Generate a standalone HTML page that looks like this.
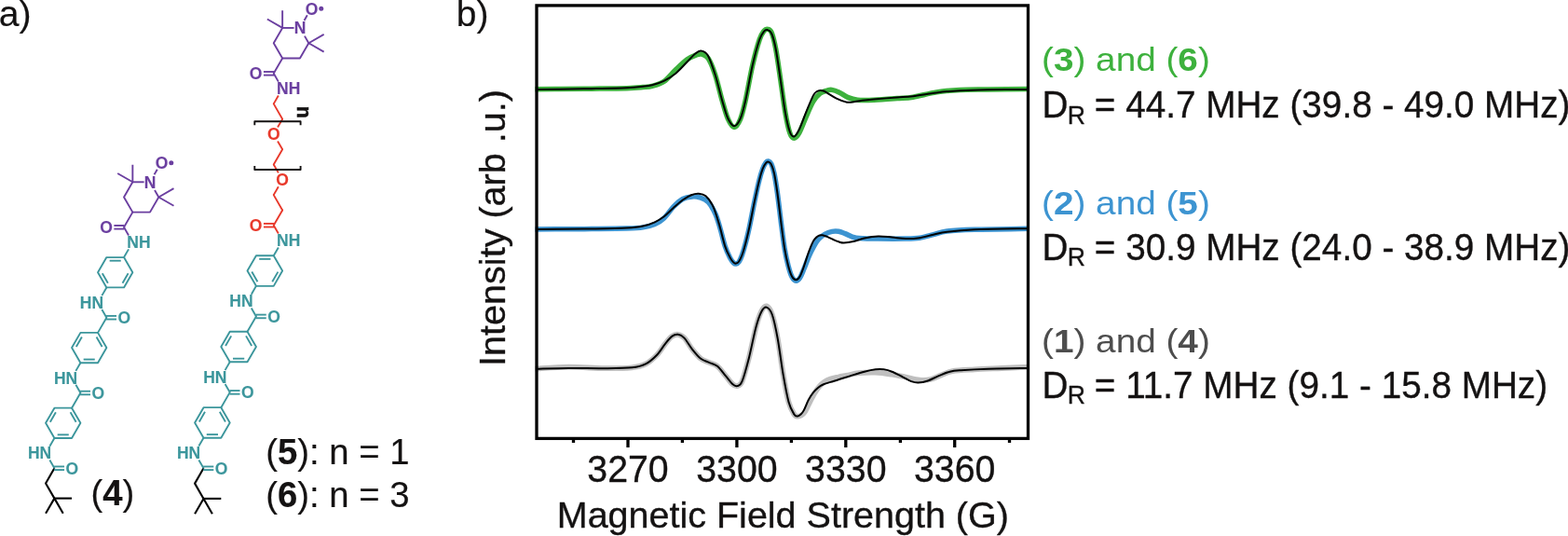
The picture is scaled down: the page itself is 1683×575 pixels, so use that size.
<!DOCTYPE html>
<html lang="en">
<head>
<meta charset="utf-8">
<title>Figure</title>
<style>
html,body{margin:0;padding:0;background:#fff;}
body{width:1683px;height:575px;overflow:hidden;}
svg{display:block;font-family:"Liberation Sans",Arial,Helvetica,sans-serif;}
text{stroke-width:0;}
.tk text{stroke-width:0.35px;stroke-linejoin:round;}
.cl text{stroke-width:0.15px;stroke-linejoin:round;}
.tl text{stroke-width:0.15px;stroke-linejoin:round;}
</style>
</head>
<body>
<svg width="1683" height="575" viewBox="0 0 1683 575">
<rect x="0" y="0" width="1683" height="575" fill="#ffffff"/>
<g id="chem" class="cl">
<polyline points="77.06,534.60 58.40,534.60" fill="none" stroke="#000" stroke-width="2.1" stroke-linejoin="round" stroke-linecap="butt"/>
<polyline points="49.07,550.76 58.40,534.60 67.73,550.76" fill="none" stroke="#000" stroke-width="2.1" stroke-linejoin="round" stroke-linecap="butt"/>
<polyline points="58.40,534.60 49.07,518.44 58.40,502.29" fill="none" stroke="#000" stroke-width="2.1" stroke-linejoin="round" stroke-linecap="butt"/>
<line x1="58.10" y1="500.49" x2="69.06" y2="500.49" stroke="#3c969c" stroke-width="1.9" stroke-linecap="butt"/>
<line x1="58.10" y1="504.09" x2="69.06" y2="504.09" stroke="#3c969c" stroke-width="1.9" stroke-linecap="butt"/>
<text x="77.36" y="508.51" fill="#3c969c" stroke="#3c969c" font-size="17.5" font-weight="bold" text-anchor="middle" >O</text>
<line x1="58.40" y1="502.29" x2="53.37" y2="493.58" stroke="#3c969c" stroke-width="1.9" stroke-linecap="butt"/>
<text x="55.17" y="492.35" fill="#3c969c" stroke="#3c969c" font-size="17.5" font-weight="bold" text-anchor="end" >HN</text>
<line x1="53.37" y1="478.68" x2="58.40" y2="469.97" stroke="#3c969c" stroke-width="1.9" stroke-linecap="butt"/>
<polygon points="77.06,437.66 86.39,453.81 77.06,469.97 58.40,469.97 49.07,453.81 58.40,437.66" fill="none" stroke="#3c969c" stroke-width="1.9" stroke-linejoin="round" stroke-linecap="butt"/>
<line x1="75.58" y1="442.29" x2="81.63" y2="452.77" stroke="#3c969c" stroke-width="1.9" stroke-linecap="butt"/>
<line x1="73.78" y1="466.37" x2="61.68" y2="466.37" stroke="#3c969c" stroke-width="1.9" stroke-linecap="butt"/>
<line x1="53.83" y1="452.77" x2="59.88" y2="442.29" stroke="#3c969c" stroke-width="1.9" stroke-linecap="butt"/>
<line x1="77.06" y1="437.66" x2="86.39" y2="421.50" stroke="#3c969c" stroke-width="1.9" stroke-linecap="round"/>
<line x1="86.09" y1="419.70" x2="97.04" y2="419.70" stroke="#3c969c" stroke-width="1.9" stroke-linecap="butt"/>
<line x1="86.09" y1="423.30" x2="97.04" y2="423.30" stroke="#3c969c" stroke-width="1.9" stroke-linecap="butt"/>
<text x="105.34" y="427.72" fill="#3c969c" stroke="#3c969c" font-size="17.5" font-weight="bold" text-anchor="middle" >O</text>
<line x1="86.39" y1="421.50" x2="81.36" y2="412.79" stroke="#3c969c" stroke-width="1.9" stroke-linecap="butt"/>
<text x="83.16" y="411.56" fill="#3c969c" stroke="#3c969c" font-size="17.5" font-weight="bold" text-anchor="end" >HN</text>
<line x1="81.36" y1="397.89" x2="86.39" y2="389.18" stroke="#3c969c" stroke-width="1.9" stroke-linecap="butt"/>
<polygon points="105.04,356.87 114.37,373.03 105.04,389.18 86.39,389.18 77.06,373.03 86.39,356.87" fill="none" stroke="#3c969c" stroke-width="1.9" stroke-linejoin="round" stroke-linecap="butt"/>
<line x1="103.56" y1="361.51" x2="109.61" y2="371.99" stroke="#3c969c" stroke-width="1.9" stroke-linecap="butt"/>
<line x1="101.76" y1="385.58" x2="89.66" y2="385.58" stroke="#3c969c" stroke-width="1.9" stroke-linecap="butt"/>
<line x1="81.81" y1="371.99" x2="87.86" y2="361.51" stroke="#3c969c" stroke-width="1.9" stroke-linecap="butt"/>
<line x1="105.04" y1="356.87" x2="114.37" y2="340.71" stroke="#3c969c" stroke-width="1.9" stroke-linecap="round"/>
<line x1="114.07" y1="338.91" x2="125.03" y2="338.91" stroke="#3c969c" stroke-width="1.9" stroke-linecap="butt"/>
<line x1="114.07" y1="342.51" x2="125.03" y2="342.51" stroke="#3c969c" stroke-width="1.9" stroke-linecap="butt"/>
<text x="133.33" y="346.93" fill="#3c969c" stroke="#3c969c" font-size="17.5" font-weight="bold" text-anchor="middle" >O</text>
<line x1="114.37" y1="340.71" x2="109.34" y2="332.00" stroke="#3c969c" stroke-width="1.9" stroke-linecap="butt"/>
<text x="111.14" y="330.77" fill="#3c969c" stroke="#3c969c" font-size="17.5" font-weight="bold" text-anchor="end" >HN</text>
<line x1="109.34" y1="317.11" x2="114.37" y2="308.40" stroke="#3c969c" stroke-width="1.9" stroke-linecap="butt"/>
<polygon points="133.03,276.08 142.36,292.24 133.03,308.40 114.37,308.40 105.04,292.24 114.37,276.08" fill="none" stroke="#3c969c" stroke-width="1.9" stroke-linejoin="round" stroke-linecap="butt"/>
<line x1="137.60" y1="293.28" x2="131.55" y2="303.76" stroke="#3c969c" stroke-width="1.9" stroke-linecap="butt"/>
<line x1="115.85" y1="303.76" x2="109.80" y2="293.28" stroke="#3c969c" stroke-width="1.9" stroke-linecap="butt"/>
<line x1="117.65" y1="279.68" x2="129.75" y2="279.68" stroke="#3c969c" stroke-width="1.9" stroke-linecap="butt"/>
<line x1="133.03" y1="276.08" x2="138.06" y2="267.37" stroke="#3c969c" stroke-width="1.9" stroke-linecap="butt"/>
<text x="136.26" y="266.14" fill="#3c969c" stroke="#3c969c" font-size="17.5" font-weight="bold" text-anchor="start" >NH</text>
<line x1="138.06" y1="252.48" x2="133.03" y2="243.77" stroke="#6b3fa0" stroke-width="1.9" stroke-linecap="butt"/>
<line x1="133.33" y1="241.97" x2="122.37" y2="241.97" stroke="#6b3fa0" stroke-width="1.9" stroke-linecap="butt"/>
<line x1="133.33" y1="245.57" x2="122.37" y2="245.57" stroke="#6b3fa0" stroke-width="1.9" stroke-linecap="butt"/>
<text x="114.07" y="249.99" fill="#6b3fa0" stroke="#6b3fa0" font-size="17.5" font-weight="bold" text-anchor="middle" >O</text>
<line x1="133.03" y1="243.77" x2="142.36" y2="227.61" stroke="#6b3fa0" stroke-width="1.9" stroke-linecap="round"/>
<polyline points="142.36,195.29 133.03,211.45 142.36,227.61 161.01,227.61 170.34,211.45" fill="none" stroke="#6b3fa0" stroke-width="1.9" stroke-linejoin="round" stroke-linecap="butt"/>
<line x1="142.36" y1="195.29" x2="154.61" y2="195.29" stroke="#6b3fa0" stroke-width="1.9" stroke-linecap="butt"/>
<line x1="170.34" y1="211.45" x2="166.01" y2="203.95" stroke="#6b3fa0" stroke-width="1.9" stroke-linecap="butt"/>
<text x="161.01" y="201.51" fill="#6b3fa0" stroke="#6b3fa0" font-size="17.5" font-weight="bold" text-anchor="middle" >N</text>
<polyline points="142.36,176.64 142.36,195.29 126.20,185.97" fill="none" stroke="#6b3fa0" stroke-width="1.9" stroke-linejoin="round" stroke-linecap="butt"/>
<polyline points="186.50,202.12 170.34,211.45 186.50,220.78" fill="none" stroke="#6b3fa0" stroke-width="1.9" stroke-linejoin="round" stroke-linecap="butt"/>
<line x1="165.61" y1="187.33" x2="168.79" y2="181.82" stroke="#6b3fa0" stroke-width="1.9" stroke-linecap="butt"/>
<text x="173.61" y="180.91" fill="#6b3fa0" stroke="#6b3fa0" font-size="17.5" font-weight="bold" text-anchor="middle" >O</text>
<circle cx="183.81" cy="174.69" r="2.5" fill="#6b3fa0"/>
<polyline points="237.31,534.90 218.50,534.90" fill="none" stroke="#000" stroke-width="2.1" stroke-linejoin="round" stroke-linecap="butt"/>
<polyline points="209.10,551.19 218.50,534.90 227.90,551.19" fill="none" stroke="#000" stroke-width="2.1" stroke-linejoin="round" stroke-linecap="butt"/>
<polyline points="218.50,534.90 209.10,518.61 218.50,502.32" fill="none" stroke="#000" stroke-width="2.1" stroke-linejoin="round" stroke-linecap="butt"/>
<line x1="218.20" y1="500.52" x2="229.31" y2="500.52" stroke="#3c969c" stroke-width="1.9" stroke-linecap="butt"/>
<line x1="218.20" y1="504.12" x2="229.31" y2="504.12" stroke="#3c969c" stroke-width="1.9" stroke-linecap="butt"/>
<text x="237.61" y="508.54" fill="#3c969c" stroke="#3c969c" font-size="17.5" font-weight="bold" text-anchor="middle" >O</text>
<line x1="218.50" y1="502.32" x2="213.40" y2="493.48" stroke="#3c969c" stroke-width="1.9" stroke-linecap="butt"/>
<text x="215.20" y="492.25" fill="#3c969c" stroke="#3c969c" font-size="17.5" font-weight="bold" text-anchor="end" >HN</text>
<line x1="213.40" y1="478.58" x2="218.50" y2="469.74" stroke="#3c969c" stroke-width="1.9" stroke-linecap="butt"/>
<polygon points="237.31,437.17 246.71,453.45 237.31,469.74 218.50,469.74 209.10,453.45 218.50,437.17" fill="none" stroke="#3c969c" stroke-width="1.9" stroke-linejoin="round" stroke-linecap="butt"/>
<line x1="235.83" y1="441.80" x2="241.96" y2="452.42" stroke="#3c969c" stroke-width="1.9" stroke-linecap="butt"/>
<line x1="234.03" y1="466.14" x2="221.78" y2="466.14" stroke="#3c969c" stroke-width="1.9" stroke-linecap="butt"/>
<line x1="213.85" y1="452.42" x2="219.98" y2="441.80" stroke="#3c969c" stroke-width="1.9" stroke-linecap="butt"/>
<line x1="237.31" y1="437.17" x2="246.71" y2="420.88" stroke="#3c969c" stroke-width="1.9" stroke-linecap="round"/>
<line x1="246.41" y1="419.08" x2="257.52" y2="419.08" stroke="#3c969c" stroke-width="1.9" stroke-linecap="butt"/>
<line x1="246.41" y1="422.68" x2="257.52" y2="422.68" stroke="#3c969c" stroke-width="1.9" stroke-linecap="butt"/>
<text x="265.82" y="427.10" fill="#3c969c" stroke="#3c969c" font-size="17.5" font-weight="bold" text-anchor="middle" >O</text>
<line x1="246.71" y1="420.88" x2="241.61" y2="412.04" stroke="#3c969c" stroke-width="1.9" stroke-linecap="butt"/>
<text x="243.41" y="410.81" fill="#3c969c" stroke="#3c969c" font-size="17.5" font-weight="bold" text-anchor="end" >HN</text>
<line x1="241.61" y1="397.14" x2="246.71" y2="388.30" stroke="#3c969c" stroke-width="1.9" stroke-linecap="butt"/>
<polygon points="265.52,355.72 274.93,372.01 265.52,388.30 246.71,388.30 237.31,372.01 246.71,355.72" fill="none" stroke="#3c969c" stroke-width="1.9" stroke-linejoin="round" stroke-linecap="butt"/>
<line x1="264.04" y1="360.36" x2="270.17" y2="370.97" stroke="#3c969c" stroke-width="1.9" stroke-linecap="butt"/>
<line x1="262.24" y1="384.70" x2="249.99" y2="384.70" stroke="#3c969c" stroke-width="1.9" stroke-linecap="butt"/>
<line x1="242.07" y1="370.97" x2="248.19" y2="360.36" stroke="#3c969c" stroke-width="1.9" stroke-linecap="butt"/>
<line x1="265.52" y1="355.72" x2="274.93" y2="339.43" stroke="#3c969c" stroke-width="1.9" stroke-linecap="round"/>
<line x1="274.63" y1="337.63" x2="285.74" y2="337.63" stroke="#3c969c" stroke-width="1.9" stroke-linecap="butt"/>
<line x1="274.63" y1="341.23" x2="285.74" y2="341.23" stroke="#3c969c" stroke-width="1.9" stroke-linecap="butt"/>
<text x="294.04" y="345.65" fill="#3c969c" stroke="#3c969c" font-size="17.5" font-weight="bold" text-anchor="middle" >O</text>
<line x1="274.93" y1="339.43" x2="269.82" y2="330.59" stroke="#3c969c" stroke-width="1.9" stroke-linecap="butt"/>
<text x="271.62" y="329.36" fill="#3c969c" stroke="#3c969c" font-size="17.5" font-weight="bold" text-anchor="end" >HN</text>
<line x1="269.82" y1="315.69" x2="274.93" y2="306.85" stroke="#3c969c" stroke-width="1.9" stroke-linecap="butt"/>
<polygon points="293.74,274.27 303.14,290.56 293.74,306.85 274.93,306.85 265.52,290.56 274.93,274.27" fill="none" stroke="#3c969c" stroke-width="1.9" stroke-linejoin="round" stroke-linecap="butt"/>
<line x1="298.38" y1="291.60" x2="292.26" y2="302.21" stroke="#3c969c" stroke-width="1.9" stroke-linecap="butt"/>
<line x1="276.41" y1="302.21" x2="270.28" y2="291.60" stroke="#3c969c" stroke-width="1.9" stroke-linecap="butt"/>
<line x1="278.21" y1="277.87" x2="290.46" y2="277.87" stroke="#3c969c" stroke-width="1.9" stroke-linecap="butt"/>
<line x1="293.74" y1="274.27" x2="298.84" y2="265.43" stroke="#3c969c" stroke-width="1.9" stroke-linecap="butt"/>
<text x="297.04" y="264.21" fill="#3c969c" stroke="#3c969c" font-size="17.5" font-weight="bold" text-anchor="start" >NH</text>
<line x1="298.84" y1="250.54" x2="293.74" y2="241.70" stroke="#e8392b" stroke-width="1.9" stroke-linecap="butt"/>
<line x1="294.04" y1="239.90" x2="282.93" y2="239.90" stroke="#e8392b" stroke-width="1.9" stroke-linecap="butt"/>
<line x1="294.04" y1="243.50" x2="282.93" y2="243.50" stroke="#e8392b" stroke-width="1.9" stroke-linecap="butt"/>
<text x="274.63" y="247.92" fill="#e8392b" stroke="#e8392b" font-size="17.5" font-weight="bold" text-anchor="middle" >O</text>
<line x1="293.74" y1="241.70" x2="303.14" y2="225.41" stroke="#e8392b" stroke-width="1.9" stroke-linecap="round"/>
<line x1="303.14" y1="225.41" x2="293.74" y2="209.12" stroke="#e8392b" stroke-width="1.9" stroke-linecap="round"/>
<line x1="293.74" y1="209.12" x2="298.84" y2="200.28" stroke="#e8392b" stroke-width="1.9" stroke-linecap="butt"/>
<line x1="298.84" y1="185.38" x2="293.74" y2="176.54" stroke="#e8392b" stroke-width="1.9" stroke-linecap="butt"/>
<line x1="293.74" y1="176.54" x2="303.14" y2="160.25" stroke="#e8392b" stroke-width="1.9" stroke-linecap="round"/>
<line x1="303.14" y1="160.25" x2="298.04" y2="151.41" stroke="#e8392b" stroke-width="1.9" stroke-linecap="butt"/>
<line x1="298.04" y1="136.51" x2="303.14" y2="127.67" stroke="#e8392b" stroke-width="1.9" stroke-linecap="butt"/>
<line x1="303.14" y1="127.67" x2="293.74" y2="111.38" stroke="#e8392b" stroke-width="1.9" stroke-linecap="round"/>
<line x1="293.74" y1="111.38" x2="298.84" y2="102.54" stroke="#e8392b" stroke-width="1.9" stroke-linecap="butt"/>
<text x="303.14" y="199.05" fill="#e8392b" stroke="#e8392b" font-size="17.5" font-weight="bold" text-anchor="middle" >O</text>
<text x="293.74" y="150.18" fill="#e8392b" stroke="#e8392b" font-size="17.5" font-weight="bold" text-anchor="middle" >O</text>
<text x="297.04" y="101.32" fill="#6b3fa0" stroke="#6b3fa0" font-size="17.5" font-weight="bold" text-anchor="start" >NH</text>
<line x1="298.84" y1="87.65" x2="293.74" y2="78.81" stroke="#6b3fa0" stroke-width="1.9" stroke-linecap="butt"/>
<line x1="294.04" y1="77.01" x2="282.93" y2="77.01" stroke="#6b3fa0" stroke-width="1.9" stroke-linecap="butt"/>
<line x1="294.04" y1="80.61" x2="282.93" y2="80.61" stroke="#6b3fa0" stroke-width="1.9" stroke-linecap="butt"/>
<text x="274.63" y="85.03" fill="#6b3fa0" stroke="#6b3fa0" font-size="17.5" font-weight="bold" text-anchor="middle" >O</text>
<line x1="293.74" y1="78.81" x2="303.14" y2="62.52" stroke="#6b3fa0" stroke-width="1.9" stroke-linecap="round"/>
<polyline points="303.14,29.94 293.74,46.23 303.14,62.52 321.95,62.52 331.35,46.23" fill="none" stroke="#6b3fa0" stroke-width="1.9" stroke-linejoin="round" stroke-linecap="butt"/>
<line x1="303.14" y1="29.94" x2="315.55" y2="29.94" stroke="#6b3fa0" stroke-width="1.9" stroke-linecap="butt"/>
<line x1="331.35" y1="46.23" x2="326.95" y2="38.60" stroke="#6b3fa0" stroke-width="1.9" stroke-linecap="butt"/>
<text x="321.95" y="36.16" fill="#6b3fa0" stroke="#6b3fa0" font-size="17.5" font-weight="bold" text-anchor="middle" >N</text>
<polyline points="303.14,11.13 303.14,29.94 286.85,20.53" fill="none" stroke="#6b3fa0" stroke-width="1.9" stroke-linejoin="round" stroke-linecap="butt"/>
<polyline points="347.64,36.82 331.35,46.23 347.64,55.63" fill="none" stroke="#6b3fa0" stroke-width="1.9" stroke-linejoin="round" stroke-linecap="butt"/>
<line x1="326.55" y1="21.97" x2="329.80" y2="16.33" stroke="#6b3fa0" stroke-width="1.9" stroke-linecap="butt"/>
<text x="334.55" y="15.56" fill="#6b3fa0" stroke="#6b3fa0" font-size="17.5" font-weight="bold" text-anchor="middle" >O</text>
<circle cx="344.75" cy="9.34" r="2.5" fill="#6b3fa0"/>
<polyline points="273.30,134.20 273.30,130.30 322.60,130.30 322.60,134.20" fill="none" stroke="#141212" stroke-width="1.9" stroke-linejoin="round" stroke-linecap="butt"/>
<polyline points="273.30,178.10 273.30,182.00 322.60,182.00 322.60,178.10" fill="none" stroke="#141212" stroke-width="1.9" stroke-linejoin="round" stroke-linecap="butt"/>
<text transform="translate(318.9,113.8) rotate(90)" fill="#141212" stroke="#141212" font-size="21.5" font-weight="bold" style="stroke-width:0.6px">n</text>
</g>
<g id="labels" class="tl">
<text x="-1.20" y="27.90" fill="#141212" stroke="#141212" font-size="39.2" font-weight="normal" text-anchor="start" >a)</text>
<text x="489.80" y="27.90" fill="#141212" stroke="#141212" font-size="39.0" font-weight="normal" text-anchor="start" >b)</text>
<text x="97.40" y="542.20" fill="#141212" stroke="#141212" font-size="38.3" font-weight="normal" text-anchor="start" >(<tspan font-weight="bold">4</tspan>)</text>
<text x="285.20" y="497.80" fill="#141212" stroke="#141212" font-size="38.3" font-weight="normal" text-anchor="start" >(<tspan font-weight="bold">5</tspan>): n = 1</text>
<text x="285.20" y="543.50" fill="#141212" stroke="#141212" font-size="38.3" font-weight="normal" text-anchor="start" >(<tspan font-weight="bold">6</tspan>): n = 3</text>
</g>
<g id="curves">
<path d="M574.50,95.70 C578.75,95.67 589.92,95.58 600.00,95.50 C610.08,95.42 622.88,95.33 635.00,95.20 C647.12,95.07 663.53,94.97 672.70,94.70 C681.87,94.43 685.45,94.00 690.00,93.60 C694.55,93.20 696.25,93.30 700.00,92.30 C703.75,91.30 708.33,90.47 712.50,87.60 C716.67,84.73 720.82,79.07 725.00,75.10 C729.18,71.13 733.83,66.52 737.60,63.80 C741.37,61.08 745.02,59.75 747.60,58.80 C750.18,57.85 751.02,57.47 753.10,58.10 C755.18,58.73 757.68,58.93 760.10,62.60 C762.52,66.27 765.10,72.58 767.60,80.10 C770.10,87.62 772.80,99.77 775.10,107.70 C777.40,115.63 779.22,122.90 781.40,127.70 C783.58,132.50 785.98,136.50 788.20,136.50 C790.42,136.50 792.70,132.50 794.70,127.70 C796.70,122.90 798.03,117.30 800.20,107.70 C802.37,98.10 805.20,80.97 807.70,70.10 C810.20,59.23 813.12,48.68 815.20,42.50 C817.28,36.32 818.73,34.87 820.20,33.00 C821.67,31.13 822.67,30.97 824.00,31.30 C825.33,31.63 826.75,31.45 828.20,35.00 C829.65,38.55 831.12,44.25 832.70,52.60 C834.28,60.95 836.02,73.83 837.70,85.10 C839.38,96.37 841.12,110.60 842.80,120.20 C844.48,129.80 846.22,138.03 847.80,142.70 C849.38,147.37 850.63,148.20 852.30,148.20 C853.97,148.20 855.63,146.53 857.80,142.70 C859.97,138.87 862.80,130.83 865.30,125.20 C867.80,119.57 870.30,113.08 872.80,108.90 C875.30,104.72 877.80,102.07 880.30,100.10 C882.80,98.13 885.72,97.72 887.80,97.10 C889.88,96.48 890.70,96.10 892.80,96.40 C894.90,96.70 897.47,97.53 900.40,98.90 C903.33,100.27 907.07,103.22 910.40,104.60 C913.73,105.98 915.82,106.77 920.40,107.20 C924.98,107.63 930.80,107.47 937.90,107.20 C945.00,106.93 955.98,106.10 963.00,105.60 C970.02,105.10 972.95,105.32 980.00,104.20 C987.05,103.08 996.92,100.20 1005.30,98.90 C1013.68,97.60 1021.18,96.90 1030.30,96.40 C1039.42,95.90 1047.55,96.05 1060.00,95.90 C1072.45,95.75 1097.50,95.57 1105.00,95.50" fill="none" stroke="#3db13d" stroke-width="5.5" stroke-linejoin="round" stroke-linecap="butt"/>
<path d="M576.00,95.90 C580.00,95.87 590.17,95.82 600.00,95.70 C609.83,95.58 622.88,95.43 635.00,95.20 C647.12,94.97 663.53,94.70 672.70,94.30 C681.87,93.90 685.45,93.32 690.00,92.80 C694.55,92.28 696.25,92.20 700.00,91.20 C703.75,90.20 708.33,88.85 712.50,86.80 C716.67,84.75 720.82,82.32 725.00,78.90 C729.18,75.48 734.10,69.82 737.60,66.30 C741.10,62.78 743.50,59.75 746.00,57.80 C748.50,55.85 750.35,54.40 752.60,54.60 C754.85,54.80 757.00,54.77 759.50,59.00 C762.00,63.23 765.00,71.88 767.60,80.00 C770.20,88.12 772.80,99.83 775.10,107.70 C777.40,115.57 779.22,122.62 781.40,127.20 C783.58,131.78 785.98,135.20 788.20,135.20 C790.42,135.20 792.70,131.78 794.70,127.20 C796.70,122.62 798.03,117.22 800.20,107.70 C802.37,98.18 805.20,80.97 807.70,70.10 C810.20,59.23 813.12,48.60 815.20,42.50 C817.28,36.40 818.82,35.25 820.20,33.50 C821.58,31.75 822.17,31.58 823.50,32.00 C824.83,32.42 826.67,32.57 828.20,36.00 C829.73,39.43 831.12,44.42 832.70,52.60 C834.28,60.78 836.02,73.83 837.70,85.10 C839.38,96.37 841.12,110.80 842.80,120.20 C844.48,129.60 846.22,137.12 847.80,141.50 C849.38,145.88 850.63,146.92 852.30,146.50 C853.97,146.08 855.63,143.38 857.80,139.00 C859.97,134.62 862.80,126.27 865.30,120.20 C867.80,114.13 870.85,106.30 872.80,102.60 C874.75,98.90 875.75,98.95 877.00,98.00 C878.25,97.05 879.13,96.98 880.30,96.90 C881.47,96.82 882.75,97.05 884.00,97.50 C885.25,97.95 885.50,98.25 887.80,99.60 C890.10,100.95 894.45,103.97 897.80,105.60 C901.15,107.23 905.38,108.72 907.90,109.40 C910.42,110.08 909.98,109.98 912.90,109.70 C915.82,109.42 921.23,108.25 925.40,107.70 C929.57,107.15 931.63,106.93 937.90,106.40 C944.17,105.87 955.98,105.03 963.00,104.50 C970.02,103.97 972.95,104.05 980.00,103.20 C987.05,102.35 996.92,100.40 1005.30,99.40 C1013.68,98.40 1021.18,97.73 1030.30,97.20 C1039.42,96.67 1047.80,96.42 1060.00,96.20 C1072.20,95.98 1096.25,95.95 1103.50,95.90" fill="none" stroke="#000" stroke-width="2.0" stroke-linejoin="round" stroke-linecap="butt"/>
<path d="M574.50,245.90 C578.75,245.88 589.90,245.85 600.00,245.80 C610.10,245.75 622.98,245.72 635.10,245.60 C647.22,245.48 663.52,245.38 672.70,245.10 C681.88,244.82 685.18,244.65 690.20,243.90 C695.22,243.15 699.03,242.27 702.80,240.60 C706.57,238.93 709.47,237.02 712.80,233.90 C716.13,230.78 719.47,225.30 722.80,221.90 C726.13,218.50 729.43,215.33 732.80,213.50 C736.17,211.67 739.97,211.18 743.00,210.90 C746.03,210.62 748.12,210.82 751.00,211.80 C753.88,212.78 757.48,213.85 760.30,216.80 C763.12,219.75 765.78,224.80 767.90,229.50 C770.02,234.20 771.27,239.18 773.00,245.00 C774.73,250.82 776.55,259.17 778.30,264.40 C780.05,269.63 781.98,273.47 783.50,276.40 C785.02,279.33 786.32,280.90 787.40,282.00 C788.48,283.10 789.05,283.17 790.00,283.00 C790.95,282.83 792.02,282.58 793.10,281.00 C794.18,279.42 795.28,276.93 796.50,273.50 C797.72,270.07 799.08,265.40 800.40,260.40 C801.72,255.40 802.87,250.67 804.40,243.50 C805.93,236.33 807.87,225.67 809.60,217.40 C811.33,209.13 813.28,199.98 814.80,193.90 C816.32,187.82 817.48,184.17 818.70,180.90 C819.92,177.63 821.10,175.62 822.10,174.30 C823.10,172.98 823.75,172.77 824.70,173.00 C825.65,173.23 826.75,173.52 827.80,175.70 C828.85,177.88 829.90,180.88 831.00,186.10 C832.10,191.32 833.18,198.30 834.40,207.00 C835.62,215.70 837.00,228.30 838.30,238.30 C839.60,248.30 840.90,259.18 842.20,267.00 C843.50,274.82 844.80,280.20 846.10,285.20 C847.40,290.20 848.62,294.33 850.00,297.00 C851.38,299.67 852.97,301.03 854.40,301.20 C855.83,301.37 857.15,300.20 858.60,298.00 C860.05,295.80 861.48,291.87 863.10,288.00 C864.72,284.13 866.57,278.73 868.30,274.80 C870.03,270.87 871.77,267.45 873.50,264.40 C875.23,261.35 876.75,258.68 878.70,256.50 C880.65,254.32 882.80,252.65 885.20,251.30 C887.60,249.95 890.62,248.90 893.10,248.40 C895.58,247.90 897.77,247.93 900.10,248.30 C902.43,248.67 903.95,249.45 907.10,250.60 C910.25,251.75 913.08,254.28 919.00,255.20 C924.92,256.12 933.73,255.95 942.60,256.10 C951.47,256.25 964.80,256.25 972.20,256.10 C979.60,255.95 982.07,255.93 987.00,255.20 C991.93,254.47 996.88,252.88 1001.80,251.70 C1006.72,250.52 1009.12,249.00 1016.50,248.10 C1023.88,247.20 1031.35,246.78 1046.10,246.30 C1060.85,245.82 1095.18,245.38 1105.00,245.20" fill="none" stroke="#3d94d1" stroke-width="5.5" stroke-linejoin="round" stroke-linecap="butt"/>
<path d="M576.00,245.90 C580.00,245.88 590.15,245.87 600.00,245.80 C609.85,245.73 622.98,245.70 635.10,245.50 C647.22,245.30 663.52,245.08 672.70,244.60 C681.88,244.12 685.18,243.65 690.20,242.60 C695.22,241.55 699.03,240.02 702.80,238.30 C706.57,236.58 709.47,234.85 712.80,232.30 C716.13,229.75 719.47,225.97 722.80,223.00 C726.13,220.03 729.60,216.80 732.80,214.50 C736.00,212.20 739.17,210.33 742.00,209.20 C744.83,208.07 747.22,207.52 749.80,207.70 C752.38,207.88 754.90,208.00 757.50,210.30 C760.10,212.60 762.98,216.38 765.40,221.50 C767.82,226.62 769.85,233.85 772.00,241.00 C774.15,248.15 776.38,258.55 778.30,264.40 C780.22,270.25 781.98,273.23 783.50,276.10 C785.02,278.97 786.32,280.52 787.40,281.60 C788.48,282.68 789.05,282.78 790.00,282.60 C790.95,282.42 792.02,282.02 793.10,280.50 C794.18,278.98 795.28,276.85 796.50,273.50 C797.72,270.15 799.08,265.40 800.40,260.40 C801.72,255.40 802.87,250.67 804.40,243.50 C805.93,236.33 807.87,225.67 809.60,217.40 C811.33,209.13 813.28,199.98 814.80,193.90 C816.32,187.82 817.48,184.08 818.70,180.90 C819.92,177.72 821.10,176.02 822.10,174.80 C823.10,173.58 823.75,173.37 824.70,173.60 C825.65,173.83 826.75,174.12 827.80,176.20 C828.85,178.28 829.90,180.97 831.00,186.10 C832.10,191.23 833.18,198.30 834.40,207.00 C835.62,215.70 837.00,228.30 838.30,238.30 C839.60,248.30 840.90,259.18 842.20,267.00 C843.50,274.82 844.80,280.28 846.10,285.20 C847.40,290.12 848.62,293.98 850.00,296.50 C851.38,299.02 852.97,300.30 854.40,300.30 C855.83,300.30 857.15,299.02 858.60,296.50 C860.05,293.98 861.48,289.68 863.10,285.20 C864.72,280.72 866.57,274.17 868.30,269.60 C870.03,265.03 871.77,260.58 873.50,257.80 C875.23,255.02 877.18,253.83 878.70,252.90 C880.22,251.97 881.08,252.03 882.60,252.20 C884.12,252.37 885.83,253.10 887.80,253.90 C889.77,254.70 892.35,256.10 894.40,257.00 C896.45,257.90 898.22,258.72 900.10,259.30 C901.98,259.88 903.05,260.53 905.70,260.50 C908.35,260.47 912.32,259.93 916.00,259.10 C919.68,258.27 923.37,256.45 927.80,255.50 C932.23,254.55 937.67,253.55 942.60,253.40 C947.53,253.25 952.47,254.15 957.40,254.60 C962.33,255.05 967.27,256.00 972.20,256.10 C977.13,256.20 982.07,255.93 987.00,255.20 C991.93,254.47 996.88,252.78 1001.80,251.70 C1006.72,250.62 1009.12,249.60 1016.50,248.70 C1023.88,247.80 1031.60,246.88 1046.10,246.30 C1060.60,245.72 1093.93,245.38 1103.50,245.20" fill="none" stroke="#000" stroke-width="2.0" stroke-linejoin="round" stroke-linecap="butt"/>
<path d="M574.50,395.70 C580.47,395.37 597.93,393.78 610.30,393.70 C622.67,393.62 637.37,395.10 648.70,395.20 C660.03,395.30 670.90,395.10 678.30,394.30 C685.70,393.50 688.67,392.62 693.10,390.40 C697.53,388.18 701.45,384.55 704.90,381.00 C708.35,377.45 711.10,372.45 713.80,369.10 C716.50,365.75 718.78,362.62 721.10,360.90 C723.42,359.18 725.47,358.52 727.70,358.80 C729.93,359.08 731.90,359.88 734.50,362.60 C737.10,365.32 740.35,371.40 743.30,375.10 C746.25,378.80 749.23,382.50 752.20,384.80 C755.17,387.10 758.15,387.57 761.10,388.90 C764.05,390.23 766.95,390.43 769.90,392.80 C772.85,395.17 776.08,399.90 778.80,403.10 C781.52,406.30 784.13,410.17 786.20,412.00 C788.27,413.83 789.48,414.58 791.20,414.10 C792.92,413.62 794.38,414.13 796.50,409.10 C798.62,404.07 801.43,393.52 803.90,383.90 C806.37,374.28 809.08,359.72 811.30,351.40 C813.52,343.08 815.30,337.83 817.20,334.00 C819.10,330.17 820.77,327.82 822.70,328.40 C824.63,328.98 826.80,331.70 828.80,337.50 C830.80,343.30 832.73,352.50 834.70,363.20 C836.67,373.90 838.63,390.37 840.60,401.70 C842.57,413.03 844.53,424.07 846.50,431.20 C848.47,438.33 850.82,441.93 852.40,444.50 C853.98,447.07 854.73,446.42 856.00,446.60 C857.27,446.78 858.67,446.42 860.00,445.60 C861.33,444.78 862.47,444.08 864.00,441.70 C865.53,439.32 867.47,434.63 869.20,431.30 C870.93,427.97 872.67,424.52 874.40,421.70 C876.13,418.88 877.85,416.40 879.60,414.40 C881.35,412.40 882.93,411.02 884.90,409.70 C886.87,408.38 888.88,407.37 891.40,406.50 C893.92,405.63 896.90,405.15 900.00,404.50 C903.10,403.85 906.35,403.32 910.00,402.60 C913.65,401.88 916.95,400.70 921.90,400.20 C926.85,399.70 933.78,399.35 939.70,399.60 C945.62,399.85 951.98,400.87 957.40,401.70 C962.82,402.53 967.27,403.62 972.20,404.60 C977.13,405.58 982.57,407.20 987.00,407.60 C991.43,408.00 994.87,407.88 998.80,407.00 C1002.73,406.12 1006.65,403.78 1010.60,402.30 C1014.55,400.82 1016.60,399.10 1022.50,398.10 C1028.40,397.10 1037.25,396.82 1046.00,396.30 C1054.75,395.78 1065.17,395.43 1075.00,395.00 C1084.83,394.57 1100.00,393.92 1105.00,393.70" fill="none" stroke="#bfbfbf" stroke-width="5.8" stroke-linejoin="round" stroke-linecap="butt"/>
<path d="M576.00,395.70 C581.72,395.57 598.18,394.98 610.30,394.90 C622.42,394.82 637.37,395.30 648.70,395.20 C660.03,395.10 670.90,395.10 678.30,394.30 C685.70,393.50 688.67,392.62 693.10,390.40 C697.53,388.18 701.45,384.55 704.90,381.00 C708.35,377.45 711.10,372.45 713.80,369.10 C716.50,365.75 718.78,362.62 721.10,360.90 C723.42,359.18 725.47,358.52 727.70,358.80 C729.93,359.08 731.90,359.88 734.50,362.60 C737.10,365.32 740.35,371.40 743.30,375.10 C746.25,378.80 749.23,382.50 752.20,384.80 C755.17,387.10 758.15,387.57 761.10,388.90 C764.05,390.23 766.95,390.43 769.90,392.80 C772.85,395.17 776.08,399.90 778.80,403.10 C781.52,406.30 784.13,410.17 786.20,412.00 C788.27,413.83 789.48,414.58 791.20,414.10 C792.92,413.62 794.38,414.13 796.50,409.10 C798.62,404.07 801.43,393.52 803.90,383.90 C806.37,374.28 809.08,359.63 811.30,351.40 C813.52,343.17 815.30,338.13 817.20,334.50 C819.10,330.87 820.77,329.10 822.70,329.60 C824.63,330.10 826.80,331.90 828.80,337.50 C830.80,343.10 832.73,352.50 834.70,363.20 C836.67,373.90 838.63,390.37 840.60,401.70 C842.57,413.03 844.53,424.07 846.50,431.20 C848.47,438.33 850.82,441.93 852.40,444.50 C853.98,447.07 854.85,446.58 856.00,446.60 C857.15,446.62 858.18,445.63 859.30,444.60 C860.42,443.57 861.27,443.05 862.70,440.40 C864.13,437.75 866.17,431.95 867.90,428.70 C869.63,425.45 871.37,423.07 873.10,420.90 C874.83,418.73 876.57,417.10 878.30,415.70 C880.03,414.30 881.32,413.47 883.50,412.50 C885.68,411.53 888.65,410.77 891.40,409.90 C894.15,409.03 896.38,408.43 900.00,407.30 C903.62,406.17 908.47,404.53 913.10,403.10 C917.73,401.67 923.37,399.83 927.80,398.70 C932.23,397.57 936.25,396.70 939.70,396.30 C943.15,395.90 945.55,395.90 948.50,396.30 C951.45,396.70 953.95,397.32 957.40,398.70 C960.85,400.08 965.75,402.87 969.20,404.60 C972.65,406.33 975.38,408.12 978.10,409.10 C980.82,410.08 982.53,410.60 985.50,410.50 C988.47,410.40 992.20,409.73 995.90,408.50 C999.60,407.27 1003.77,404.73 1007.70,403.10 C1011.63,401.47 1015.57,399.68 1019.50,398.70 C1023.43,397.72 1024.40,397.70 1031.30,397.20 C1038.20,396.70 1048.87,396.08 1060.90,395.70 C1072.93,395.32 1096.40,395.03 1103.50,394.90" fill="none" stroke="#000" stroke-width="2.0" stroke-linejoin="round" stroke-linecap="butt"/>
</g>
<g id="frame" class="tk">
<rect x="576.0" y="5.9" width="527.5" height="464.5" fill="none" stroke="#000" stroke-width="3.3"/>
<line x1="674.00" y1="470.40" x2="674.00" y2="480.00" stroke="#000" stroke-width="3.3" stroke-linecap="butt"/>
<line x1="790.90" y1="470.40" x2="790.90" y2="480.00" stroke="#000" stroke-width="3.3" stroke-linecap="butt"/>
<line x1="907.80" y1="470.40" x2="907.80" y2="480.00" stroke="#000" stroke-width="3.3" stroke-linecap="butt"/>
<line x1="1024.70" y1="470.40" x2="1024.70" y2="480.00" stroke="#000" stroke-width="3.3" stroke-linecap="butt"/>
<line x1="615.50" y1="470.40" x2="615.50" y2="475.00" stroke="#000" stroke-width="3.3" stroke-linecap="butt"/>
<line x1="732.40" y1="470.40" x2="732.40" y2="475.00" stroke="#000" stroke-width="3.3" stroke-linecap="butt"/>
<line x1="849.40" y1="470.40" x2="849.40" y2="475.00" stroke="#000" stroke-width="3.3" stroke-linecap="butt"/>
<line x1="966.40" y1="470.40" x2="966.40" y2="475.00" stroke="#000" stroke-width="3.3" stroke-linecap="butt"/>
<line x1="1083.50" y1="470.40" x2="1083.50" y2="475.00" stroke="#000" stroke-width="3.3" stroke-linecap="butt"/>
<text transform="translate(674.0,517.3) scale(1,1.035)" fill="#141212" stroke="#141212" font-size="39.3" text-anchor="middle">3270</text>
<text transform="translate(790.9,517.3) scale(1,1.035)" fill="#141212" stroke="#141212" font-size="39.3" text-anchor="middle">3300</text>
<text transform="translate(907.8,517.3) scale(1,1.035)" fill="#141212" stroke="#141212" font-size="39.3" text-anchor="middle">3330</text>
<text transform="translate(1024.7,517.3) scale(1,1.035)" fill="#141212" stroke="#141212" font-size="39.3" text-anchor="middle">3360</text>
<text transform="translate(840.3,565.6) scale(1,1.0)" fill="#141212" stroke="#141212" font-size="39.5" text-anchor="middle">Magnetic Field Strength (G)</text>
<text transform="translate(542.0,244.5) rotate(-90) scale(1,1.0)" fill="#141212" stroke="#141212" font-size="39.6" text-anchor="middle">Intensity (arb .u.)</text>
</g>
<g id="legend" class="tk">
<text transform="translate(1118.0,75.8) scale(1.094,1)" fill="#3db13d" stroke="#3db13d" font-size="35.4" style="stroke-width:0">(<tspan font-weight="bold">3</tspan>) and (<tspan font-weight="bold">6</tspan>)</text>
<text transform="translate(1118.6,126.0) scale(1,1.043)" fill="#141212" stroke="#141212" font-size="38.7">D<tspan font-size="26.6" dy="6.3" dx="-0.8">R</tspan><tspan dy="-6.3" dx="-0.9"> = 44.7 MHz (39.8 - 49.0 MHz)</tspan></text>
<text transform="translate(1118.0,229.8) scale(1.094,1)" fill="#3d94d1" stroke="#3d94d1" font-size="35.4" style="stroke-width:0">(<tspan font-weight="bold">2</tspan>) and (<tspan font-weight="bold">5</tspan>)</text>
<text transform="translate(1118.6,278.7) scale(1,1.043)" fill="#141212" stroke="#141212" font-size="38.7">D<tspan font-size="26.6" dy="6.3" dx="-0.8">R</tspan><tspan dy="-6.3" dx="-0.9"> = 30.9 MHz (24.0 - 38.9 MHz)</tspan></text>
<text transform="translate(1118.0,378.0) scale(1.094,1)" fill="#4d4d4d" stroke="#4d4d4d" font-size="35.4" style="stroke-width:0">(<tspan font-weight="bold">1</tspan>) and (<tspan font-weight="bold">4</tspan>)</text>
<text transform="translate(1118.6,426.9) scale(1,1.043)" fill="#141212" stroke="#141212" font-size="38.7">D<tspan font-size="26.6" dy="6.3" dx="-0.8">R</tspan><tspan dy="-6.3" dx="-0.9"> = 11.7 MHz (9.1 - 15.8 MHz)</tspan></text>
</g>
</svg>
</body>
</html>
